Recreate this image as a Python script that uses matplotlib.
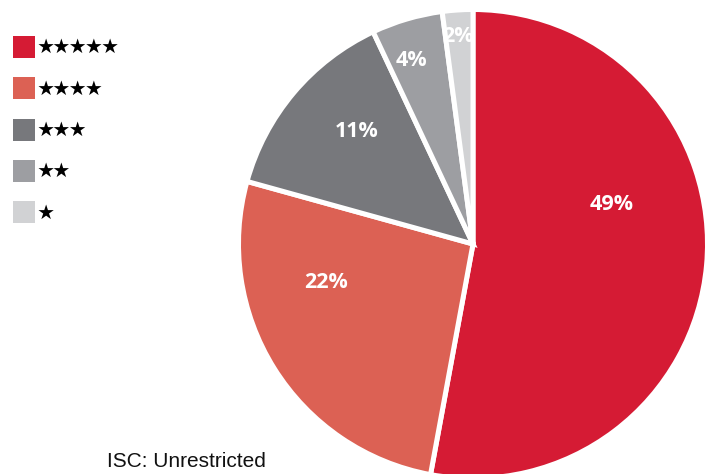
import matplotlib
matplotlib.use("Agg")
import matplotlib.pyplot as plt
from matplotlib.patches import Patch

# ---- data ----
categories = ["★★★★★", "★★★★", "★★★", "★★", "★"]
shares = [52.9, 26.4, 13.7, 4.9, 2.1]          # slice sizes
pct_labels = ["49%", "22%", "11%", "4%", "2%"]  # labels as printed

# ---- style ----
colors = ["#D51B34", "#DC6154", "#77787C", "#9D9EA2", "#D1D2D4"]
W, H = 706, 474
center = (473, H - 244)
radius = 234.5
# label offsets from pie centre (pixels, y up)
label_offsets = [(138.5, 39.5), (-146.5, -38.5), (-116.5, 112.5), (-61.5, 183.5), (-15.5, 207.5)]

fig = plt.figure(figsize=(W / 100, H / 100), dpi=100)
ax = fig.add_axes([0, 0, 1, 1])
wedges, _ = ax.pie(shares, colors=colors, startangle=90, counterclock=False,
                   center=center, radius=radius,
                   wedgeprops=dict(edgecolor="white", linewidth=3.6))
ax.set_xlim(0, W)
ax.set_ylim(0, H)
ax.set_aspect("equal")
ax.axis("off")

for lab, (dx, dy) in zip(pct_labels, label_offsets):
    ax.text(center[0] + dx, center[1] + dy, lab, color="white", fontsize=15.5,
            fontweight="bold", family="Open Sans", ha="center", va="center")

fs = 11.7
fpx = fs * 100 / 72
handles = [Patch(facecolor=c, edgecolor="none") for c in colors]
fig.legend(handles, categories, loc="upper left",
           bbox_to_anchor=(13 / W, 1 - 36 / H), frameon=False,
           prop={"family": ["Noto Sans CJK SC", "DejaVu Sans"], "size": fs,
                 "weight": "bold"},
           handlelength=22 / fpx, handleheight=1.706,
           handletextpad=0.12, labelspacing=1.19, borderpad=0, borderaxespad=0)

fig.text(107 / W, 1 - 467 / H, "ISC: Unrestricted", fontsize=15,
         family="Liberation Sans", ha="left", va="baseline", color="#111111")

fig.savefig("out.png", dpi=100)
